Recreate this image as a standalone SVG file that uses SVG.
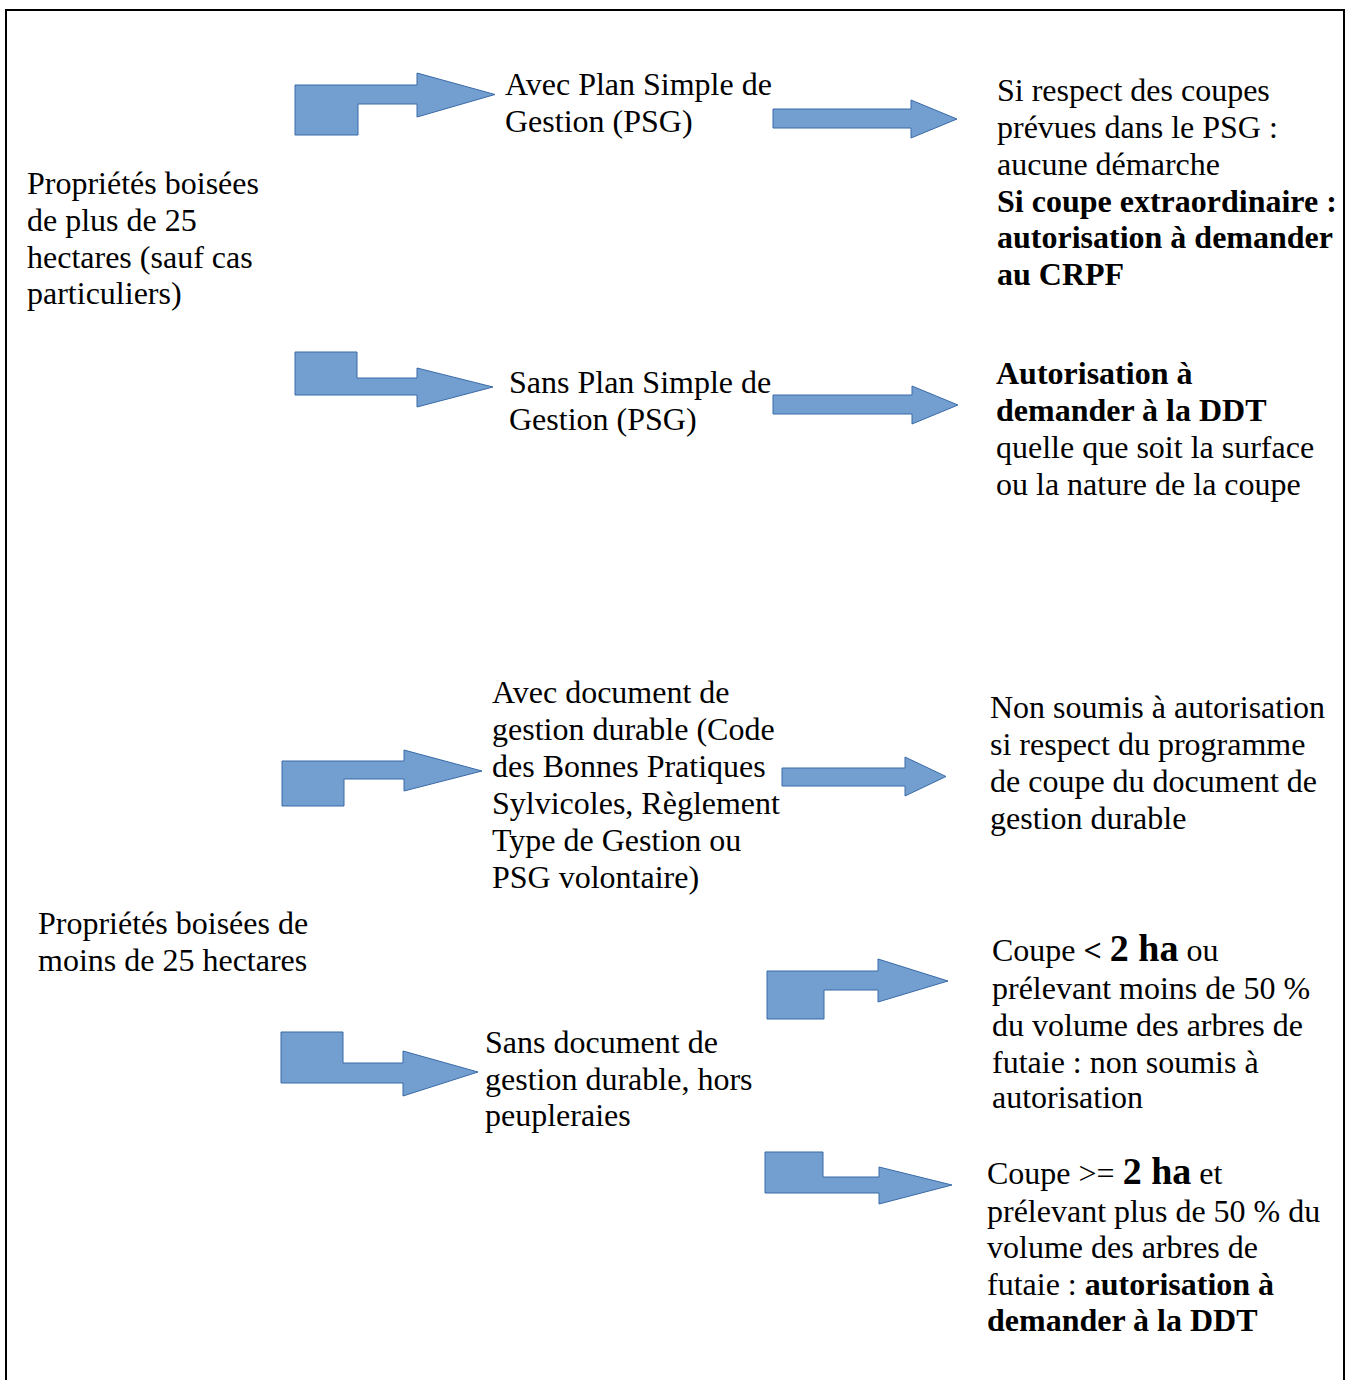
<svg xmlns="http://www.w3.org/2000/svg" width="1348" height="1380" viewBox="0 0 1348 1380">
<style>
text{font-family:"Liberation Serif","Times New Roman",serif;font-size:32px;fill:#000}
.b{font-weight:bold}
.big{font-size:38px;font-weight:bold}
.arrow{fill:#729fcf;stroke:#3a6aa8;stroke-width:1;stroke-linejoin:miter}
</style>
<rect x="0" y="0" width="1348" height="1380" fill="#fff"/>
<rect x="6" y="10" width="1338" height="1400" fill="none" stroke="#000" stroke-width="2"/>

<g id="connectors">
<polygon class="arrow" points="295,85 417,85 417,73 495,94.5 417,117 417,104 358,104 358,135 295,135"/>
<polygon class="arrow" points="295,352 357,352 357,378 417,378 417,368 493,387 417,407 417,395 295,395"/>
<polygon class="arrow" points="773,109 911,109 911,100 957,119 911,138 911,128 773,128"/>
<polygon class="arrow" points="773,395 912,395 912,386 958,405 912,424 912,414 773,414"/>
<polygon class="arrow" points="782,768 905,768 905,757 946,776.5 905,796 905,786 782,786"/>
<polygon class="arrow" points="282,761 404,761 404,750 482,771 404,791 404,779 344,779 344,806 282,806"/>
<polygon class="arrow" points="281,1032 343,1032 343,1063 403,1063 403,1051 478,1072 403,1096 403,1083 281,1083"/>
<polygon class="arrow" points="767,971 878,971 878,959 948,981 878,1002 878,990 824,990 824,1019 767,1019"/>
<polygon class="arrow" points="765,1152 823,1152 823,1177 879,1177 879,1167 952,1185 879,1204 879,1193 765,1193"/>
</g>

<g id="node-plus25">
<text x="27" y="194">Propriétés boisées</text>
<text x="27" y="231">de plus de 25</text>
<text x="27" y="268">hectares (sauf cas</text>
<text x="27" y="304">particuliers)</text>
</g>

<g id="node-avec-psg">
<text x="505" y="95">Avec Plan Simple de</text>
<text x="505" y="132">Gestion (PSG)</text>
</g>

<g id="node-sans-psg">
<text x="509" y="393">Sans Plan Simple de</text>
<text x="509" y="430">Gestion (PSG)</text>
</g>

<g id="node-respect-psg">
<text x="997" y="101">Si respect des coupes</text>
<text x="997" y="138">prévues dans le PSG :</text>
<text x="997" y="175">aucune démarche</text>
<text x="997" y="212" class="b">Si coupe extraordinaire :</text>
<text x="997" y="248" class="b">autorisation à demander</text>
<text x="997" y="285" class="b">au CRPF</text>
</g>

<g id="node-ddt-1">
<text x="996" y="384" class="b">Autorisation à</text>
<text x="996" y="421" class="b">demander à la DDT</text>
<text x="996" y="458">quelle que soit la surface</text>
<text x="996" y="495">ou la nature de la coupe</text>
</g>

<g id="node-moins25">
<text x="38" y="934">Propriétés boisées de</text>
<text x="38" y="971">moins de 25 hectares</text>
</g>

<g id="node-avec-doc">
<text x="492" y="703">Avec document de</text>
<text x="492" y="740">gestion durable (Code</text>
<text x="492" y="777">des Bonnes Pratiques</text>
<text x="492" y="814">Sylvicoles, Règlement</text>
<text x="492" y="851">Type de Gestion ou</text>
<text x="492" y="888">PSG volontaire)</text>
</g>

<g id="node-non-soumis">
<text x="990" y="718">Non soumis à autorisation</text>
<text x="990" y="755">si respect du programme</text>
<text x="990" y="792">de coupe du document de</text>
<text x="990" y="829">gestion durable</text>
</g>

<g id="node-sans-doc">
<text x="485" y="1053">Sans document de</text>
<text x="485" y="1090">gestion durable, hors</text>
<text x="485" y="1126">peupleraies</text>
</g>

<g id="node-moins-2ha">
<text x="992" y="961">Coupe <tspan class="b">&lt; </tspan><tspan class="big">2 ha</tspan> ou</text>
<text x="992" y="999">prélevant moins de 50 %</text>
<text x="992" y="1036">du volume des arbres de</text>
<text x="992" y="1073">futaie : non soumis à</text>
<text x="992" y="1108">autorisation</text>
</g>

<g id="node-plus-2ha">
<text x="987" y="1184">Coupe &gt;= <tspan class="big">2 ha</tspan> et</text>
<text x="987" y="1222">prélevant plus de 50 % du</text>
<text x="987" y="1258">volume des arbres de</text>
<text x="987" y="1295">futaie : <tspan class="b">autorisation à</tspan></text>
<text x="987" y="1331" class="b">demander à la DDT</text>
</g>
</svg>
